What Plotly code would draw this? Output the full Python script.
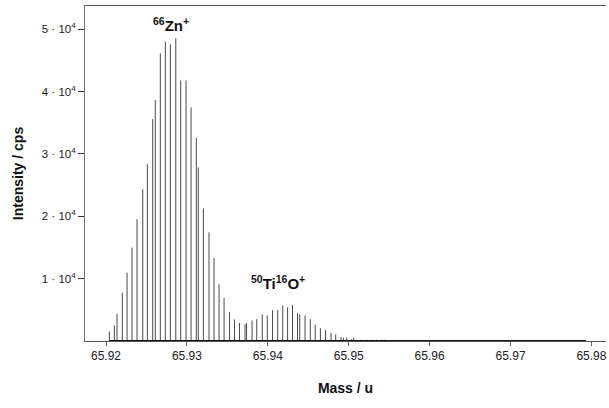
import plotly.graph_objects as go

masses = [65.92041, 65.92103, 65.92136, 65.92201, 65.92260, 65.92321, 65.92383, 65.92454,
          65.92511, 65.92577, 65.92609, 65.92671, 65.92733, 65.92795, 65.92862, 65.92923,
          65.92989, 65.93051, 65.93116, 65.93141, 65.93203, 65.93273, 65.93335, 65.93397,
          65.93459, 65.93527, 65.93588, 65.93650, 65.93718, 65.93737, 65.93805, 65.93863,
          65.93931, 65.93993, 65.94058, 65.94122, 65.94184, 65.94244, 65.94305, 65.94367,
          65.94394, 65.94460, 65.94525, 65.94586, 65.94650, 65.94713, 65.94781, 65.94839,
          65.94905, 65.94933, 65.94975, 65.95037, 65.95062, 65.95099, 65.95161, 65.95223,
          65.95284, 65.95346, 65.95408, 65.95449,
          65.95510, 65.95572, 65.95634, 65.95696, 65.95758, 65.95820, 65.95882, 65.95944,
          65.96006, 65.96068, 65.96130, 65.96192, 65.96254, 65.96316, 65.96378, 65.96440,
          65.96502, 65.96564, 65.96626, 65.96688, 65.96750, 65.96812, 65.96874, 65.96936,
          65.96998, 65.97060, 65.97122, 65.97184, 65.97246, 65.97308, 65.97370, 65.97432,
          65.97494, 65.97556, 65.97618, 65.97680, 65.97742, 65.97804, 65.97866, 65.97928]

intensity = [1540, 2500, 4380, 7750, 10960, 14980, 19520, 24330,
             28350, 35570, 38620, 46110, 47980, 47560, 48520, 41780,
             41780, 37450, 32570, 27820, 21240, 17430, 13310, 9100,
             6920, 4640, 3450, 2900, 2650, 2870, 3310, 3500,
             4250, 4110, 4910, 4950, 5710, 5400, 5800, 4480,
             4270, 4110, 3500, 2600, 2050, 1750, 1300, 1100,
             630, 530, 530, 300, 530, 200, 200, 200,
             200, 200, 200, 200,
             150, 150, 130, 120, 120, 110, 110, 100,
             100, 100, 100, 100, 100, 100, 100, 100,
             100, 100, 100, 100, 100, 100, 100, 100,
             100, 100, 100, 100, 100, 100, 100, 100,
             100, 100, 100, 100, 100, 100, 100, 100]

y_tickvals = [10000, 20000, 30000, 40000, 50000]
y_ticktext = ["1 · 10<sup>4</sup>", "2 · 10<sup>4</sup>", "3 · 10<sup>4</sup>",
              "4 · 10<sup>4</sup>", "5 · 10<sup>4</sup>"]
x_tickvals = [65.92, 65.93, 65.94, 65.95, 65.96, 65.97, 65.98]

peak_labels = ["<sup>66</sup>Zn<sup>+</sup>", "<sup>50</sup>Ti<sup>16</sup>O<sup>+</sup>"]
peak_label_x = [65.9280, 65.9413]
peak_label_y = [50700, 9300]

# stick spectrum
sx, sy = [], []
for m, v in zip(masses, intensity):
    sx += [m, m, None]
    sy += [0, v, None]

fig = go.Figure()
fig.add_trace(go.Scatter(x=sx, y=sy, mode="lines",
                         line=dict(color="#4a4a4a", width=1), hoverinfo="skip",
                         showlegend=False))
fig.add_trace(go.Scatter(x=[masses[0], masses[-1]], y=[0, 0], mode="lines",
                         line=dict(color="#111111", width=2), showlegend=False))

for t, x, y in zip(peak_labels, peak_label_x, peak_label_y):
    fig.add_annotation(x=x, y=y, text="<b>" + t + "</b>", showarrow=False,
                       font=dict(family="Liberation Sans, Arial", size=15, color="#111"))

fig.update_layout(
    width=609, height=408,
    margin=dict(l=85, r=3, t=6, b=67),
    paper_bgcolor="white", plot_bgcolor="white",
    font=dict(family="Liberation Sans, Arial", size=11, color="#222"),
    showlegend=False,
)
fig.update_xaxes(
    range=[65.9174, 65.9818],
    tickvals=x_tickvals, ticktext=[f"{v:.2f}" for v in x_tickvals],
    tickfont=dict(size=12),
    ticks="outside", ticklen=4, tickcolor="#666",
    showline=True, linecolor="#555", linewidth=1, mirror=True,
    showgrid=False, zeroline=False,
    title=dict(text="<b>Mass / u</b>", font=dict(size=14, color="#111"), standoff=20),
)
fig.update_yaxes(
    range=[0, 53700],
    tickvals=y_tickvals, ticktext=y_ticktext,
    tickfont=dict(size=11.5),
    ticks="outside", ticklen=6, tickcolor="#333",
    showline=True, linecolor="#777", linewidth=1,
    showgrid=False, zeroline=False,
    title=dict(text="<b>Intensity / cps</b>", font=dict(size=14, color="#111"), standoff=14),
)

fig.write_html("out.html")
